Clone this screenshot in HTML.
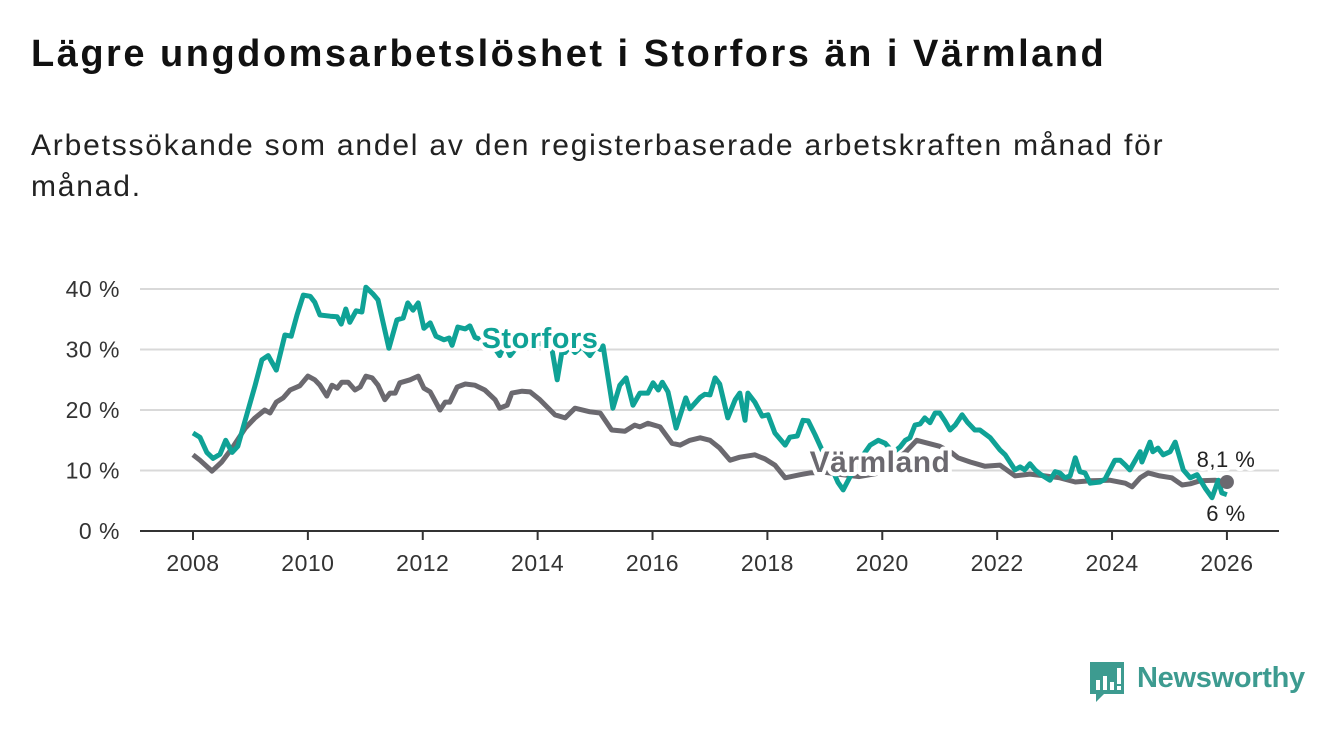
<!DOCTYPE html>
<html><head><meta charset="utf-8">
<style>
body{margin:0;background:#fff;width:1340px;height:734px;overflow:hidden;font-family:"Liberation Sans","DejaVu Sans",sans-serif;}
#title{position:absolute;left:31px;top:33px;font-size:38px;letter-spacing:2.5px;font-weight:bold;color:#111;margin:0;white-space:nowrap;}
#sub{position:absolute;left:31px;top:125px;font-size:30px;letter-spacing:1.8px;line-height:41px;color:#222;width:1200px;margin:0;}
svg{position:absolute;left:0;top:0;}
</style></head><body>
<h1 id="title">Lägre ungdomsarbetslöshet i Storfors än i Värmland</h1>
<p id="sub">Arbetssökande som andel av den registerbaserade arbetskraften månad för<br>månad.</p>
<svg id="chart" width="1340" height="734"></svg>
<script>
const yTicks=[0,10,20,30,40];
const xTicks=[2008,2010,2012,2014,2016,2018,2020,2022,2024,2026];
const storDates=[2008.00,2008.12,2008.24,2008.35,2008.47,2008.57,2008.68,2008.78,2008.96,2009.08,2009.20,2009.31,2009.45,2009.60,2009.71,2009.81,2009.92,2010.04,2010.12,2010.21,2010.39,2010.51,2010.58,2010.66,2010.73,2010.84,2010.94,2011.01,2011.13,2011.22,2011.41,2011.55,2011.66,2011.74,2011.83,2011.92,2012.02,2012.13,2012.23,2012.37,2012.46,2012.51,2012.61,2012.74,2012.82,2012.91,2013.20,2013.34,2013.43,2013.52,2013.69,2014.04,2014.25,2014.34,2014.42,2014.48,2014.56,2014.65,2014.77,2014.91,2015.02,2015.09,2015.14,2015.31,2015.43,2015.54,2015.66,2015.78,2015.92,2016.01,2016.10,2016.17,2016.27,2016.41,2016.58,2016.65,2016.83,2016.91,2017.00,2017.09,2017.17,2017.31,2017.44,2017.52,2017.61,2017.66,2017.78,2017.91,2018.01,2018.13,2018.31,2018.39,2018.52,2018.62,2018.71,2018.83,2018.95,2019.09,2019.23,2019.32,2019.44,2019.58,2019.70,2019.79,2019.93,2020.05,2020.19,2020.31,2020.40,2020.48,2020.57,2020.66,2020.74,2020.83,2020.92,2021.00,2021.09,2021.18,2021.27,2021.39,2021.48,2021.61,2021.70,2021.88,2022.05,2022.14,2022.31,2022.40,2022.48,2022.57,2022.66,2022.75,2022.92,2023.01,2023.09,2023.18,2023.27,2023.36,2023.44,2023.53,2023.62,2023.79,2023.88,2024.05,2024.14,2024.23,2024.31,2024.49,2024.52,2024.66,2024.71,2024.80,2024.89,2025.01,2025.10,2025.24,2025.36,2025.48,2025.62,2025.74,2025.85,2025.91,2026.00];
const storValues=[16.2,15.5,13,12,12.7,15,13,14,20,24,28.3,29,26.6,32.4,32.2,35.7,39,38.8,37.8,35.7,35.5,35.4,34.2,36.7,34.5,36.4,36.2,40.3,39.2,38.2,30.2,34.9,35.2,37.7,36.5,37.7,33.5,34.4,32.2,31.6,31.9,30.7,33.7,33.4,33.9,32,31,29,31,29,31,31,30,25,29.5,29.5,30.5,29.5,30.5,29,30.5,30,30.6,20.3,24.1,25.3,20.8,22.8,22.8,24.5,23.3,24.6,23,17,22,20.2,22.1,22.6,22.5,25.3,24.3,18.7,21.7,22.8,18.3,22.8,21.3,19,19.2,16.2,14.2,15.5,15.7,18.3,18.2,15.9,13.4,11,8,6.8,9,11,13,14.2,15,14.5,13,13.9,15,15.4,17.5,17.7,18.7,17.9,19.5,19.5,18.2,16.7,17.5,19.2,18,16.7,16.7,15.4,13.4,12.6,10.1,10.6,10.1,11.1,10.1,9.4,8.4,9.8,9.6,8.8,9.1,12.1,9.8,9.6,7.9,8.1,8.6,11.7,11.7,10.9,10.1,13.1,11.4,14.7,13.1,13.7,12.6,13.1,14.7,10.1,8.8,9.3,7.1,5.5,8.4,6.3,6.0];
const varmDates=[2008.00,2008.12,2008.33,2008.50,2008.68,2008.91,2009.08,2009.25,2009.34,2009.45,2009.57,2009.69,2009.86,2010.00,2010.12,2010.21,2010.33,2010.42,2010.51,2010.59,2010.70,2010.82,2010.91,2011.01,2011.12,2011.22,2011.34,2011.43,2011.52,2011.60,2011.78,2011.92,2012.02,2012.13,2012.30,2012.39,2012.47,2012.60,2012.74,2012.91,2013.08,2013.26,2013.34,2013.47,2013.55,2013.73,2013.87,2014.04,2014.30,2014.48,2014.65,2014.91,2015.09,2015.29,2015.52,2015.69,2015.78,2015.92,2016.13,2016.34,2016.48,2016.65,2016.83,2017.00,2017.17,2017.35,2017.52,2017.78,2017.96,2018.13,2018.31,2018.57,2018.74,2019.00,2019.30,2019.60,2019.90,2020.20,2020.40,2020.60,2020.80,2021.00,2021.20,2021.32,2021.53,2021.79,2022.05,2022.31,2022.57,2022.83,2023.09,2023.36,2023.62,2023.96,2024.23,2024.35,2024.49,2024.63,2024.83,2025.04,2025.22,2025.36,2025.53,2025.79,2026.00];
const varmValues=[12.6,11.7,9.9,11.4,13.7,17,18.7,20,19.5,21.3,22,23.3,24,25.6,25,24.1,22.3,24.1,23.6,24.6,24.6,23.3,23.8,25.6,25.3,24.1,21.7,22.8,22.8,24.5,25,25.6,23.6,23,20,21.3,21.3,23.8,24.3,24.1,23.3,21.7,20.3,20.8,22.8,23.1,23,21.7,19.2,18.7,20.3,19.7,19.5,16.7,16.5,17.5,17.2,17.8,17.2,14.5,14.2,15,15.4,15,13.7,11.7,12.2,12.6,11.9,10.9,8.8,9.3,9.6,9.7,9.3,9.0,9.5,11.5,13,15,14.5,14,13,12.1,11.4,10.7,10.9,9.1,9.4,9.1,8.8,8.1,8.3,8.4,7.9,7.3,8.8,9.6,9.1,8.8,7.6,7.8,8.3,8.4,8.1];

const NS='http://www.w3.org/2000/svg';
const svg=document.getElementById('chart');
const X=d=>193+(d-2008)*57.44;
const Y=v=>531-v*6.05;
function mk(tag,attrs,parent){const e=document.createElementNS(NS,tag);for(const k in attrs)e.setAttribute(k,attrs[k]);(parent||svg).appendChild(e);return e;}
yTicks.forEach(t=>{
  if(t>0){const g=mk('line',{x1:140,x2:1279,y1:Y(t),y2:Y(t),stroke:'#d9d9d9','stroke-width':2});
  
  }
  const l=mk('text',{x:120,y:Y(t)+8,'text-anchor':'end','font-size':23,fill:'#333','letter-spacing':'0.5'});
  l.textContent=t+' %';
  
  
});
const ax=mk('line',{x1:140,x2:1279,y1:531,y2:531,stroke:'#333','stroke-width':2});


xTicks.forEach(t=>{
  const tk=mk('line',{x1:X(t),x2:X(t),y1:531,y2:540,stroke:'#333','stroke-width':2});
  
  
  const l=mk('text',{x:X(t),y:571,'text-anchor':'middle','font-size':23,fill:'#333','letter-spacing':'0.5'});
  l.textContent=t;
  
  
});
function pathOf(ds,vs){return ds.map((d,i)=>(i?'L':'M')+X(d).toFixed(1)+','+Y(vs[i]).toFixed(1)).join('');}
const vl=mk('path',{d:pathOf(varmDates,varmValues),fill:'none',stroke:'#6b696f','stroke-width':5,'stroke-linejoin':'round'});


const sl=mk('path',{d:pathOf(storDates,storValues),fill:'none',stroke:'#0fa296','stroke-width':5,'stroke-linejoin':'round'});


const lv=varmValues[varmValues.length-1], ls=storValues[storValues.length-1];
const dot=mk('circle',{cx:X(varmDates[varmDates.length-1]),cy:Y(lv),r:7,fill:'#6b696f'});


function lbl(txt,x,y,size,fill,weight,name){
  const t=mk('text',{x:x,y:y,'text-anchor':'middle','font-size':size,fill:fill,'font-weight':weight,stroke:'#fff','stroke-width':8,'paint-order':'stroke','stroke-linejoin':'round','letter-spacing':'0.5'});
  t.textContent=txt;
  
  
}
lbl('Storfors',540,348,29,'#0fa296','bold','storfors-label');
lbl('Värmland',880,472,30,'#6b696f','bold','varmland-label');
lbl(String(lv).replace('.',',')+' %',1226,467,22,'#222','normal','varmland-end-value');
lbl(String(ls).replace('.',',').replace(',0','')+' %',1226,521,22,'#222','normal','storfors-end-value');
</script>
<div style="position:absolute;left:1088px;top:660px;width:230px;height:46px;">
<svg width="38" height="44" style="position:absolute;left:0;top:0">
<path d="M2 2h34v32H16l-8 8v-8H2z" fill="#3d9b90"/>
<rect x="8" y="20" width="4" height="10" fill="#fff"/><rect x="15" y="16" width="4" height="14" fill="#fff"/><rect x="22" y="22" width="4" height="8" fill="#fff"/><rect x="29" y="8" width="4" height="16" fill="#fff"/><rect x="29" y="26" width="4" height="4" fill="#fff"/>
</svg>
<span style="position:absolute;left:49px;top:2px;font-size:29px;color:#3d9b90;font-weight:bold;letter-spacing:-0.3px">Newsworthy</span>
</div>
</body></html>
